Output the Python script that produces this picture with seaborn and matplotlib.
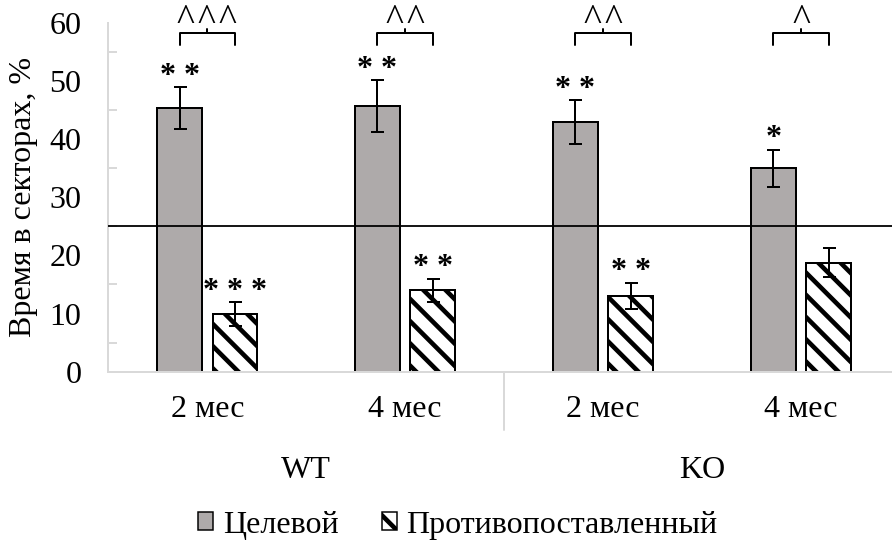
import matplotlib
matplotlib.use("Agg")
import numpy as np
import pandas as pd
import seaborn as sns
import matplotlib.pyplot as plt
from matplotlib.patches import Patch

# ---- data ----
months = ["2 мес", "4 мес", "2 мес", "4 мес"]
genotypes = ["WT", "WT", "KO", "KO"]
group_names = ["WT", "KO"]
series = ["Целевой", "Противопоставленный"]
target_mean = [45.3, 45.7, 42.9, 35.0]
target_err = [3.6, 4.45, 3.8, 3.2]
opposite_mean = [9.9, 14.0, 13.0, 18.7]
opposite_err = [2.0, 2.0, 2.3, 2.5]
target_sig = ["* *", "* *", "* *", "*"]
opposite_sig = ["* * *", "* *", "* *", ""]
pair_sig = ["^^^", "^^", "^^", "^"]
chance_level = 25
y_ticks = [0, 10, 20, 30, 40, 50, 60]
y_label = "Время в секторах, %"

# ---- style ----
DPI = 200
PX = 72 / DPI  # points per pixel
W, H = 892, 542
GREY = "#AEAAAA"
AXIS_GREY = "#D9D9D9"
HATCH = "\\\\\\"

sns.set_theme(style="white")
plt.rcParams["font.family"] = ["Liberation Serif", "DejaVu Serif"]
plt.rcParams["text.color"] = "black"
plt.rcParams["axes.labelcolor"] = "black"
plt.rcParams["xtick.color"] = "black"
plt.rcParams["ytick.color"] = "black"
plt.rcParams["hatch.linewidth"] = 4.6 * PX
plt.rcParams["hatch.color"] = "black"
FS = 32 * PX

keys = [f"{g} {m}" for g, m in zip(genotypes, months)]
df = pd.DataFrame({
    "key": keys * 2,
    "series": [series[0]] * len(keys) + [series[1]] * len(keys),
    "value": target_mean + opposite_mean,
})

fig = plt.figure(figsize=(W / DPI, H / DPI), dpi=DPI)
ax = fig.add_axes([108.3 / W, 1 - 371.7 / H, 791.7 / W, 349 / H])

sns.barplot(data=df, x="key", y="value", hue="series", order=keys,
            hue_order=series, palette=[GREY, "white"], saturation=1,
            width=0.56, gap=0.19, edgecolor="black", linewidth=2 * PX,
            errorbar=None, legend=False, ax=ax, zorder=2)

for p in ax.containers[1]:
    p.set_hatch(HATCH)

# error bars + stars
for cont, means, errs, sigs in [(ax.containers[0], target_mean, target_err, target_sig),
                                 (ax.containers[1], opposite_mean, opposite_err, opposite_sig)]:
    xs = [p.get_x() + p.get_width() / 2 for p in cont]
    ax.errorbar(xs, means, yerr=errs, fmt="none", ecolor="black",
                elinewidth=2 * PX, capsize=6.5 * PX, capthick=2 * PX, zorder=5)
    for x, m, e, s in zip(xs, means, errs, sigs):
        if s:
            ax.annotate(s, (x, m + e), xytext=(0, 1.2), textcoords="offset points",
                        ha="center", va="baseline", fontsize=FS, fontweight="bold",
                        annotation_clip=False)

# brackets with carets
br_y, br_leg, br_nub = 58.2, 2.0, 0.7
for pt, po, s in zip(ax.containers[0], ax.containers[1], pair_sig):
    x0 = pt.get_x() + pt.get_width() / 2
    x1 = po.get_x() + po.get_width() / 2
    xc = (x0 + x1) / 2
    ax.plot([x0, x0, x1, x1], [br_y - br_leg, br_y, br_y, br_y - br_leg],
            color="black", lw=2 * PX, clip_on=False, zorder=6)
    ax.plot([xc, xc], [br_y, br_y + br_nub], color="black", lw=2 * PX,
            clip_on=False, zorder=6)
    ax.annotate("\u200a".join(s), (xc, br_y), xytext=(0, 1.0), textcoords="offset points",
                ha="center", va="baseline", fontsize=38 * PX,
                annotation_clip=False)

# chance line
ax.axhline(chance_level, color="black", lw=1.8 * PX, zorder=4)

# axes
ax.set_xlim(-0.5, len(keys) - 0.5)
ax.set_ylim(0, 60)
ax.set_yticks(y_ticks)
ax.set_yticks(np.arange(5, 60, 10), minor=True)
ax.tick_params(axis="y", which="major", direction="inout", length=20 * PX,
               width=2 * PX, color=AXIS_GREY, labelsize=FS, pad=17 * PX)
ax.tick_params(axis="y", which="minor", direction="in", length=9 * PX,
               width=2 * PX, color=AXIS_GREY, left=True)
ax.set_xticks(range(len(keys)))
ax.set_xticklabels(months)
ax.tick_params(axis="x", length=0, labelsize=FS, pad=23 * PX)
for side in ["top", "right"]:
    ax.spines[side].set_visible(False)
for side in ["left", "bottom"]:
    ax.spines[side].set_color(AXIS_GREY)
    ax.spines[side].set_linewidth(2 * PX)
ax.set_xlabel("")
ax.set_ylabel(y_label, fontsize=FS)
ax.yaxis.set_label_coords((38 - 108.3) / 791.7, 0.5)

# group labels and separators
xt = ax.get_xaxis_transform()
pos = np.arange(len(keys))
for g in group_names:
    idx = [i for i, gg in enumerate(genotypes) if gg == g]
    ax.text(np.mean(pos[idx]), -106 / 349, g, transform=xt, ha="center",
            va="baseline", fontsize=FS)
for i in range(1, len(keys)):
    if genotypes[i] != genotypes[i - 1]:
        ax.plot([i - 0.5, i - 0.5], [0, -58 / 349], transform=xt,
                color=AXIS_GREY, lw=2 * PX, clip_on=False)

# legend
handles = [Patch(facecolor=GREY, edgecolor="black", linewidth=1.5 * PX),
           Patch(facecolor="white", edgecolor="black", linewidth=1.5 * PX, hatch=HATCH)]
fig.legend(handles, series, loc="center", bbox_to_anchor=(458 / W, 1 - 525 / H),
           ncol=2, frameon=False, fontsize=FS, handlelength=0.47,
           handleheight=0.47, handletextpad=0.3, columnspacing=1.35)

fig.savefig("out.png", dpi=DPI)
